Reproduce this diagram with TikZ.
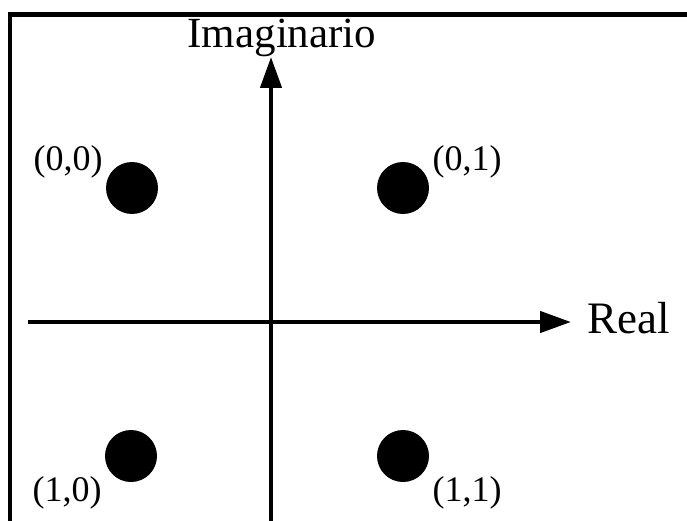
\documentclass[tikz,border=0pt]{standalone}
\usepackage{fontspec}
\setmainfont{Liberation Serif}
\usetikzlibrary{arrows.meta, positioning}

\begin{document}
\begin{tikzpicture}[
  x=1pt, y=-1pt,
  dotnode/.style={circle, fill=black, inner sep=0pt, minimum size=52pt},
  coordlabel/.style={anchor=base, inner sep=0pt, font=\fontsize{36}{40}\selectfont},
  axislabel/.style={anchor=base, inner sep=0pt},
  axisline/.style={line width=4.5pt, -{Triangle[length=31pt, width=21pt]}},
]
\useasboundingbox (0,0) rectangle (687,521);
\clip (0,0) rectangle (687,521);

% Frame
\draw[line width=4.5pt] (10,560) -- (10,14.5) -- (720,14.5);

% Axes
\coordinate (hstart) at (28,322);
\coordinate (htip) at (571,322);
\coordinate (vstart) at (271,540);
\coordinate (vtip) at (271,57);
\draw[axisline] (hstart) -- (htip);
\draw[axisline] (vstart) -- (vtip);

\node[axislabel, font=\fontsize{43}{48}\selectfont] (imag) at (282,48) {Imaginario};
\node[axislabel, font=\fontsize{45}{50}\selectfont] (real) at (629,333) {Real};

% Symbols
\node[dotnode] (d00) at (132,188) {};
\node[dotnode] (d01) at (403,188) {};
\node[dotnode] (d10) at (131,456) {};
\node[dotnode] (d11) at (403,456) {};

\node[coordlabel] (l00) at (68,171) {(0,0)};
\node[coordlabel] (l01) at (467,171) {(0,1)};
\node[coordlabel] (l10) at (67,501) {(1,0)};
\node[coordlabel] (l11) at (467,501) {(1,1)};

\end{tikzpicture}
\end{document}
